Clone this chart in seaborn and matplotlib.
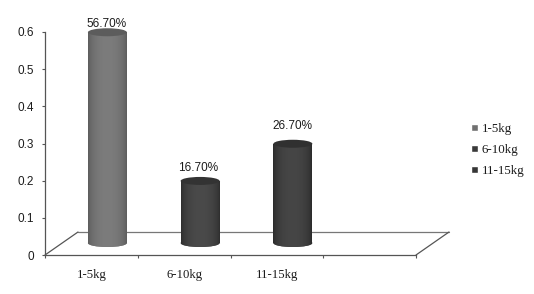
import numpy as np
import pandas as pd
import seaborn as sns
import matplotlib.pyplot as plt
from matplotlib.colors import to_rgb
from matplotlib.patches import Ellipse
from matplotlib.transforms import Affine2D

categories = ['1-5kg', '6-10kg', '11-15kg']
values = [0.567, 0.167, 0.267]
value_labels = ['56.70%', '16.70%', '26.70%']
y_ticks = [0, 0.1, 0.2, 0.3, 0.4, 0.5, 0.6]
y_tick_labels = ['0', '0.1', '0.2', '0.3', '0.4', '0.5', '0.6']

# colours: flat, edge of cylinder, middle of cylinder, top cap
bar_colors = ['#707070', '#3a3a3a', '#363636']
edge_colors = ['#505050', '#232323', '#212121']
mid_colors = ['#7c7c7c', '#4a4a4a', '#464646']
cap_colors = ['#5c5c5c', '#333333', '#303030']
label_shift = [(-1, 8), (-2, 13), (0, 18)]  # pixels above the bar top

line_color = '#555555'
back_color = '#777777'
text_color = '#1c1c1c'

data = pd.DataFrame({'weight': categories, 'share': values})

sns.set_style('white')
fig = plt.figure(figsize=(5.34, 2.94), dpi=100)
ax = fig.add_axes([45 / 534, (294 - 255) / 294, 371 / 534, 223 / 294])

sns.barplot(data=data, x='weight', y='share', hue='weight', order=categories + [''],
            hue_order=categories, palette=bar_colors, width=0.42, dodge=False,
            legend=True, ax=ax)

ax.set_xlim(-0.5, 3.5)
ax.set_ylim(0, 0.6)
ax.set_xlabel('')
ax.set_ylabel('')

# the fake 3D look: bars sit further back on the floor
bar_shift = ax.transData + Affine2D().translate(16, 12)
floor_shift = ax.transData + Affine2D().translate(33, 23)

# floor outline
ax.plot([-0.5, 3.5], [0, 0], color=back_color, lw=0.9, transform=floor_shift, clip_on=False)
for x in [-0.5, 3.5]:
    x_px, y_px = ax.transData.transform((x, 0))
    ax.plot([x_px, x_px + 33], [y_px, y_px + 23], color=line_color, lw=0.9,
            transform=None, clip_on=False)

ry = 8 * 0.6 / 223
for i, container in enumerate(ax.containers):
    bar = container[0]
    x0 = bar.get_x()
    w = bar.get_width()
    h = bar.get_height()
    xc = x0 + w / 2
    bar.set_transform(bar_shift)
    bar.set_clip_on(False)
    bar.set_zorder(2)

    low = np.array(to_rgb(edge_colors[i]))
    high = np.array(to_rgb(mid_colors[i]))
    pos = np.linspace(-1, 1, 40)
    shade = np.sqrt(1 - 0.9 * pos ** 2)[None, :, None]
    grad = low + (high - low) * shade

    bottom = Ellipse((xc, 0), w, ry, transform=bar_shift, facecolor=bar_colors[i],
                     edgecolor='none', zorder=2, clip_on=False)
    ax.add_patch(bottom)
    for clip in [bar, bottom]:
        im = ax.imshow(grad, extent=(x0, x0 + w, -ry, h), aspect='auto', zorder=3,
                       transform=bar_shift, interpolation='bilinear')
        im.set_clip_path(clip)
    ax.add_patch(Ellipse((xc, h), w, ry, transform=bar_shift, facecolor=cap_colors[i],
                         edgecolor='none', zorder=4, clip_on=False))
    ax.annotate(value_labels[i], (xc, h), xycoords=bar_shift,
                xytext=(label_shift[i][0] * 0.72, label_shift[i][1] * 0.72),
                textcoords='offset points', ha='center', va='center',
                fontsize=8.5, family='Liberation Sans', color=text_color, zorder=5)

ax.set_xlim(-0.5, 3.5)
ax.set_ylim(0, 0.6)

sns.despine(ax=ax)
for side in ['left', 'bottom']:
    ax.spines[side].set_color(line_color)
    ax.spines[side].set_linewidth(0.9)

ax.set_yticks(y_ticks)
ax.set_yticklabels(y_tick_labels, family='Liberation Sans', fontsize=8.5, color=text_color)
ax.tick_params(axis='y', left=True, length=2, width=0.8, color=line_color, pad=6)

ax.set_xticks(range(4))
ax.set_xticklabels(categories + [''], family='Liberation Serif', fontsize=9.2, color=text_color)
ax.set_xticks([-0.5, 0.5, 1.5, 2.5, 3.5], minor=True)
ax.tick_params(axis='x', which='major', length=0, pad=10)
ax.tick_params(axis='x', which='minor', bottom=True, length=2, width=0.8, color=line_color)

handles = ax.get_legend().legend_handles
leg = ax.legend(handles=handles, labels=categories, loc='center left',
                bbox_to_anchor=(471 / 534, (294 - 150) / 294), bbox_transform=fig.transFigure,
                frameon=False, handlelength=0.5, handleheight=0.5, handletextpad=0.3,
                labelspacing=0.68, borderpad=0, borderaxespad=0,
                prop={'family': 'Liberation Serif', 'size': 9.4})
for t in leg.get_texts():
    t.set_color(text_color)

fig.savefig('out.png', dpi=100)
